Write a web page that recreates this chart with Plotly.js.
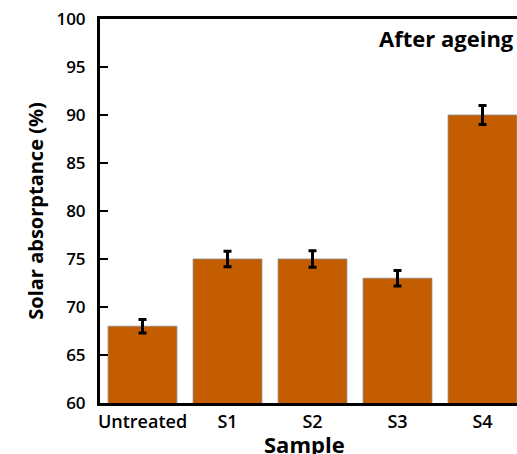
<!DOCTYPE html>
<html>
<head>
<meta charset="utf-8">
<script src="https://cdn.plot.ly/plotly-3.0.1.min.js"></script>
<style>
html,body{margin:0;padding:0;overflow:hidden;background:#fff;}
#chart{width:530px;height:454px;}
</style>
</head>
<body>
<div id="chart"></div>
<script>
const categories = ["Untreated", "S1", "S2", "S3", "S4"];
const absorptance = [68, 75, 75, 73, 90];
const errors = [0.7, 0.8, 0.85, 0.8, 1.0];
const yTicks = [60, 65, 70, 75, 80, 85, 90, 95, 100];

const trace = {
  type: "bar",
  x: categories,
  y: absorptance,
  marker: {color: "#C45C00", line: {color: "#8a8a8a", width: 0.8}},
  error_y: {type: "data", array: errors, visible: true, color: "#000", thickness: 3, width: 4},
  hoverinfo: "none"
};

const layout = {
  width: 530, height: 454,
  margin: {l: 100, r: 5, t: 19, b: 51},
  paper_bgcolor: "#fff", plot_bgcolor: "#fff",
  bargap: 0.19,
  showlegend: false,
  font: {family: "'Open Sans', sans-serif", color: "#000"},
  xaxis: {
    type: "category",
    range: [-0.5, 4.5],
    showline: true, linecolor: "#000", linewidth: 3, mirror: true,
    ticks: "", showgrid: false, zeroline: false,
    tickfont: {family: "'Open Sans', sans-serif", size: 18, color: "#000", weight: 600}
  },
  yaxis: {
    range: [60, 100],
    tickvals: yTicks,
    ticktext: yTicks.map(String),
    showline: true, linecolor: "#000", linewidth: 3, mirror: true,
    ticks: "inside", ticklen: 8, tickwidth: 2, tickcolor: "#000",
    ticklabelstandoff: 8,
    showgrid: false, zeroline: false,
    tickfont: {family: "'Open Sans', sans-serif", size: 17, color: "#000", weight: 600},
    title: {text: "<b>Solar absorptance (%)</b>", font: {family: "'Open Sans', sans-serif", size: 20, color: "#000"}, standoff: 8}
  },
  annotations: [{
    xref: "paper", yref: "paper", x: 0.9788, y: 0.9505,
    xanchor: "right", yanchor: "middle", showarrow: false,
    text: "<b>After ageing</b>", font: {family: "'Open Sans', sans-serif", size: 22, color: "#000"}
  }, {
    xref: "paper", yref: "paper", x: 0.481, y: -0.107,
    xanchor: "center", yanchor: "middle", showarrow: false,
    text: "<b>Sample</b>", font: {family: "'Open Sans', sans-serif", size: 22, color: "#000"}
  }]
};

Plotly.newPlot("chart", [trace], layout, {displayModeBar: false, staticPlot: true});
</script>
</body>
</html>
